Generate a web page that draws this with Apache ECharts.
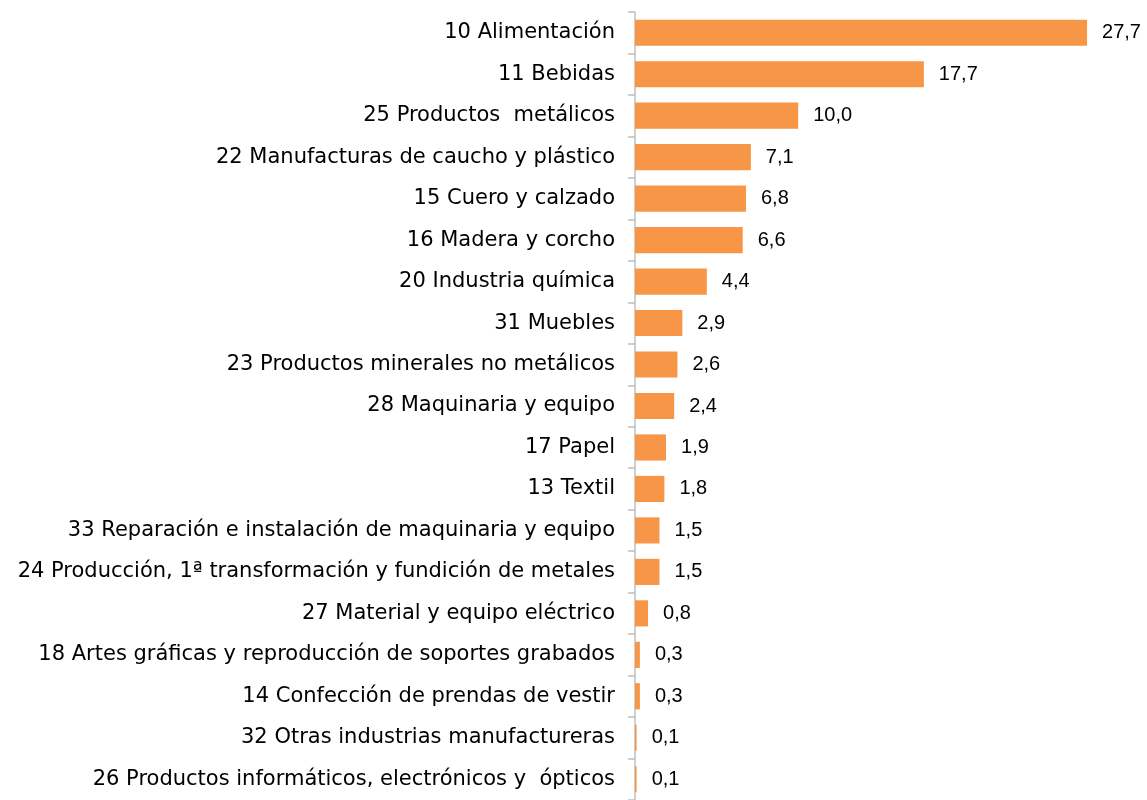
<!DOCTYPE html>
<html>
<head>
<meta charset="utf-8">
<script src="https://cdn.jsdelivr.net/npm/echarts@6/dist/echarts.min.js"></script>
<style>
html, body { margin: 0; padding: 0; background: #fff; }
#chart { width: 1147px; height: 800px; }
</style>
</head>
<body>
<div id="chart"></div>
<script>
var categories = [
    '10 Alimentación',
    '11 Bebidas',
    '25 Productos  metálicos',
    '22 Manufacturas de caucho y plástico',
    '15 Cuero y calzado',
    '16 Madera y corcho',
    '20 Industria química',
    '31 Muebles',
    '23 Productos minerales no metálicos',
    '28 Maquinaria y equipo',
    '17 Papel',
    '13 Textil',
    '33 Reparación e instalación de maquinaria y equipo',
    '24 Producción, 1ª transformación y fundición de metales',
    '27 Material y equipo eléctrico',
    '18 Artes gráficas y reproducción de soportes grabados',
    '14 Confección de prendas de vestir',
    '32 Otras industrias manufactureras',
    '26 Productos informáticos, electrónicos y  ópticos'
]
var values = [27.7, 17.7, 10.0, 7.1, 6.8, 6.6, 4.4, 2.9, 2.6, 2.4, 1.9, 1.8, 1.5, 1.5, 0.8, 0.3, 0.3, 0.1, 0.1]

var option = {
    animation: false,
    grid: {
        left: 635,
        top: 12,
        width: 489.6,
        height: 794
    },
    xAxis: {
        type: 'value',
        min: 0,
        max: 30,
        show: false
    },
    yAxis: {
        type: 'category',
        inverse: true,
        data: categories,
        axisLine: {
            show: true,
            lineStyle: { color: '#bfbfbf', width: 1.5 }
        },
        axisTick: {
            show: true,
            alignWithLabel: false,
            length: 7,
            lineStyle: { color: '#bfbfbf', width: 1.5 }
        },
        axisLabel: {
            margin: 20,
            padding: [4, 0, 0, 0],
            color: '#000',
            fontSize: 21,
            fontFamily: '"DejaVu Sans", sans-serif'
        }
    },
    series: [{
        type: 'bar',
        data: values,
        barCategoryGap: '37%',
        itemStyle: { color: '#f79646' },
        label: {
            show: true,
            position: 'right',
            distance: 15,
            padding: [4, 0, 0, 0],
            color: '#000',
            fontSize: 20,
            fontFamily: '"Liberation Sans", Arial, sans-serif',
            formatter: function(p) {
                return p.value.toFixed(1).replace('.', ',')
            }
        }
    }]
}

var myChart = echarts.init(document.getElementById('chart'))
myChart.setOption(option)
</script>
</body>
</html>
